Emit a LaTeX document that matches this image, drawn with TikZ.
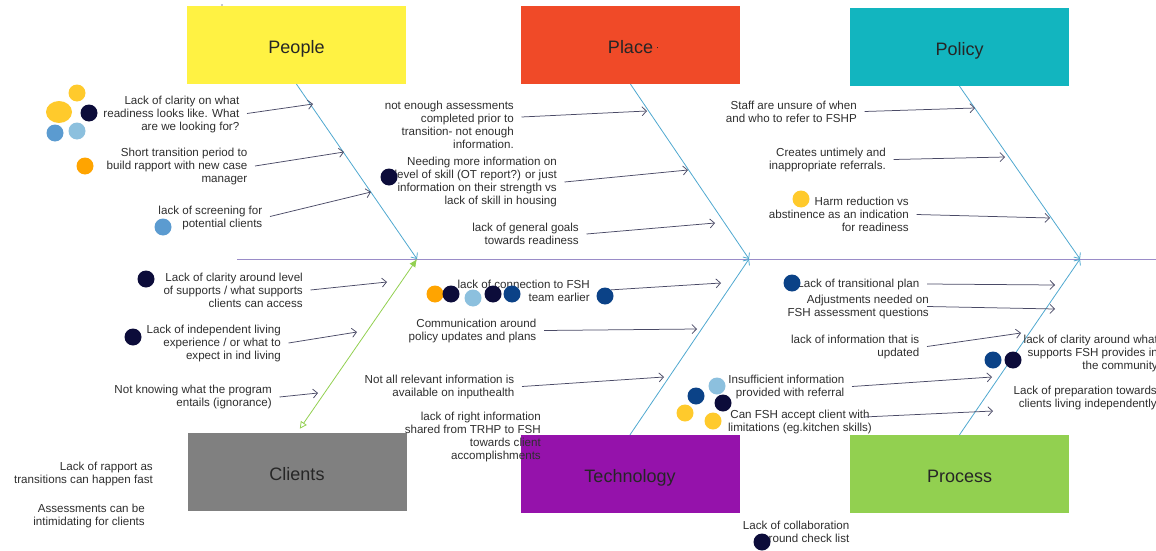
\documentclass[tikz,border=0pt]{standalone}
\usepackage{fontspec}
\setmainfont{Liberation Sans}
\usetikzlibrary{arrows.meta,shapes.geometric}

\definecolor{peoplecol}{HTML}{FFF243}
\definecolor{placecol}{HTML}{F04A28}
\definecolor{policycol}{HTML}{12B5BF}
\definecolor{clientcol}{HTML}{808080}
\definecolor{techcol}{HTML}{9512AB}
\definecolor{processcol}{HTML}{92D050}
\definecolor{boxtext}{HTML}{262626}
\definecolor{causetext}{HTML}{2E2E2E}
\definecolor{arrowgray}{HTML}{4A4A66}
\definecolor{bonecol}{HTML}{4FA8CF}
\definecolor{spinecol}{HTML}{9A8CC8}
\definecolor{dgold}{HTML}{FFCA2C}
\definecolor{dnavy}{HTML}{0C0C3A}
\definecolor{dblue}{HTML}{5B9BD0}
\definecolor{dlight}{HTML}{8CC0DE}
\definecolor{dorange}{HTML}{FFA400}
\definecolor{ddark}{HTML}{0B4287}

\tikzset{
  catbox/.style={fill=#1, draw=none, minimum width=219pt, minimum height=78pt,
    inner sep=0pt, text height=16.5pt, text depth=0pt,
    font=\fontsize{18}{20}\selectfont, text=boxtext},
  cause/.style={align=right, font=\fontsize{11.6}{13}\selectfont, text=causetext,
    inner xsep=7.5pt, inner ysep=0pt, anchor=east},
  causearrow/.style={draw=arrowgray, line width=0.75pt,
    -{Straight Barb[length=4.5pt,width=9pt]}},
  bone/.style={draw=bonecol, line width=0.8pt,
    -{Straight Barb[length=4.5pt,width=8pt]}},
  dot/.style={circle, inner sep=0pt, minimum size=17pt, fill=#1},
}

\begin{document}
\begin{tikzpicture}[x=1pt,y=-1pt]
\useasboundingbox (0,0) rectangle (1156,551);

% category boxes
\node[catbox=peoplecol]  (people)  at (296.5,45)  {People};
\node[catbox=placecol]   (place)   at (630.5,45)  {Place\rlap{\hspace{4pt}\raisebox{5pt}{\rule{1.2pt}{1.2pt}}}};
\node[catbox=policycol]  (policy)  at (959.5,47)  {Policy};
\node[catbox=clientcol]  (clients) at (297,472)   {Clients};
\node[catbox=techcol]    (tech)    at (630,474)   {Technology};
\node[catbox=processcol] (process) at (959.5,474) {Process};

\fill[dnavy] (222,5) circle (0.7);

% spine and bones
\coordinate (sl) at (237,259);
\coordinate (sr) at (1160,259);
\coordinate (j1) at (417,259);
\coordinate (j2) at (749,259);
\coordinate (j3) at (1080,259);
\draw[draw=spinecol, line width=0.8pt] (sl) -- (sr);
\draw[bone] (people.south) -- (j1);
\draw[bone] (place.south) -- (j2);
\draw[bone] (policy.south) -- (j3);
\draw[bone] (tech.north) -- (j2);
\draw[bone] (process.north) -- (j3);
\draw[draw=processcol, line width=0.8pt, shorten <=5pt,
  {Triangle[open,length=7pt,width=7pt]}-{Latex[length=8pt,width=7pt]}] (clients.north) -- (j1);

% arrow end points on the bones
\coordinate (pe1e) at (313,104);
\coordinate (pe2e) at (344,152);
\coordinate (pe3e) at (371,192);
\coordinate (pl1e) at (647,111);
\coordinate (pl2e) at (688,170);
\coordinate (pl3e) at (715,223);
\coordinate (po1e) at (975,108);
\coordinate (po2e) at (1005,157);
\coordinate (po3e) at (1050,218);
\coordinate (cl1e) at (387,282);
\coordinate (cl2e) at (357,332);
\coordinate (cl3e) at (318,393);
\coordinate (te1e) at (721,283);
\coordinate (te2e) at (697,329);
\coordinate (te3e) at (664,377);
\coordinate (pr1e) at (1055,285);
\coordinate (pr2e) at (1055,309);
\coordinate (pr3e) at (1021,333);
\coordinate (pr6e) at (992,377);
\coordinate (pr7e) at (993,411);

% People
\node[cause] (pe1) at (247,115) {Lack of clarity on what\\readiness looks like. What\\are we looking for?};
\node[cause] (pe2) at (255,166) {Short transition period to\\build rapport with new case\\manager};
\node[cause] (pe3) at (270,217.5) {lack of screening for\\potential clients};
\draw[causearrow] ([yshift=1.5pt]pe1.east) -- (pe1e);
\draw[causearrow] (pe2.east) -- (pe2e);
\draw[causearrow] ([yshift=1pt]pe3.east) -- (pe3e);

% Place
\node[cause] (pl1) at (521.5,125) {not enough assessments\\completed prior to\\transition- not enough\\information.};
\node[cause] (pl2) at (564.5,182) {Needing more information on\\level of skill (OT report?) or just\\information on their strength vs\\lack of skill in housing};
\node[cause] (pl3) at (586.5,234) {lack of general goals\\towards readiness};
\draw[causearrow] ([yshift=8pt]pl1.east) -- (pl1e);
\draw[causearrow] (pl2.east) -- (pl2e);
\draw[causearrow] (pl3.east) -- (pl3e);

% Policy
\node[cause] (po1) at (864.5,111.5) {Staff are unsure of when\\and who to refer to FSHP};
\node[cause] (po2) at (893.5,159.5) {Creates untimely and\\inappropriate referrals.};
\node[cause] (po3) at (916.5,214.5) {Harm reduction vs\\abstinence as an indication\\for readiness};
\draw[causearrow] (po1.east) -- (po1e);
\draw[causearrow] (po2.east) -- (po2e);
\draw[causearrow] (po3.east) -- (po3e);

% Clients
\node[cause] (cl1) at (310.5,290) {Lack of clarity around level\\of supports / what supports\\clients can access};
\node[cause] (cl2) at (288.5,343) {Lack of independent living\\experience / or what to\\expect in ind living};
\node[cause] (cl3) at (279.5,397) {Not knowing what the program\\entails (ignorance)};
\node[cause] (cl4) at (160.5,473.5) {Lack of rapport as\\transitions can happen fast};
\node[cause] (cl5) at (152.5,515.5) {Assessments can be\\intimidating for clients};
\draw[causearrow] (cl1.east) -- (cl1e);
\draw[causearrow] (cl2.east) -- (cl2e);
\draw[causearrow] (cl3.east) -- (cl3e);

% Technology
\node[cause] (te1) at (597.5,290.5) {lack of connection to FSH\\team earlier};
\node[cause] (te2) at (544,330.5) {Communication around\\policy updates and plans};
\node[cause] (te3) at (522,386.5) {Not all relevant information is\\available on inputhealth};
\node[cause] (te4) at (548.5,437) {lack of right information\\shared from TRHP to FSH\\towards client\\accomplishments};
\node[dot=ddark] (td6) at (605,296) {};
\draw[causearrow] (td6.north east) -- (te1e);
\draw[causearrow] (te2.east) -- (te2e);
\draw[causearrow] (te3.east) -- (te3e);

% Process
\node[cause] (pr1) at (927,284) {Lack of transitional plan};
\node[cause] (pr2) at (936.5,306.5) {Adjustments needed on\\FSH assessment questions};
\node[cause] (pr3) at (927,346.5) {lack of information that is\\updated};
\node[cause] (pr4) at (1165.5,353.5) {lack of clarity around what\\supports FSH provides in\\the community};
\node[cause] (pr5) at (1164.5,397.5) {Lack of preparation towards\\clients living independently};
\node[cause] (pr6) at (852,386.5) {Insufficient information\\provided with referral};
\node[cause, align=center, anchor=center] (pr7) at (800,421.5) {Can FSH accept client with\\limitations (eg.kitchen skills)};
\node[cause] (pr8) at (857,531.5) {Lack of collaboration\\around check list};
\draw[causearrow] (pr1.east) -- (pr1e);
\draw[causearrow] ([xshift=-9.5pt]pr2.east) -- (pr2e);
\draw[causearrow] (pr3.east) -- (pr3e);
\draw[causearrow] (pr6.east) -- (pr6e);
\draw[causearrow] ([xshift=-16pt,yshift=4.5pt]pr7.east) -- (pr7e);

% votes
\node[fill=dgold, ellipse, inner sep=0pt, minimum width=26pt, minimum height=22pt] (v1) at (59,112) {};
\node[dot=dgold]   (v2)  at (77,93) {};
\node[dot=dnavy]   (v3)  at (89,113) {};
\node[dot=dblue]   (v4)  at (55,133) {};
\node[dot=dlight]  (v5)  at (77,131) {};
\node[dot=dorange] (v6)  at (85,166) {};
\node[dot=dblue]   (v7)  at (163,227) {};
\node[dot=dnavy]   (v8)  at (389,177) {};
\node[dot=dgold]   (v9)  at (801,199) {};
\node[dot=dnavy]   (v10) at (146,279) {};
\node[dot=dnavy]   (v11) at (133,337) {};
\node[dot=dorange] (v12) at (435,294) {};
\node[dot=dnavy]   (v13) at (451,294) {};
\node[dot=dlight]  (v14) at (473,298) {};
\node[dot=dnavy]   (v15) at (493,294) {};
\node[dot=ddark]   (v16) at (512,294) {};
\node[dot=ddark]   (v17) at (792,283) {};
\node[dot=ddark]   (v18) at (993,360) {};
\node[dot=dnavy]   (v19) at (1013,360) {};
\node[dot=dlight]  (v20) at (717,386) {};
\node[dot=ddark]   (v21) at (696,396) {};
\node[dot=dnavy]   (v22) at (723,403) {};
\node[dot=dgold]   (v23) at (685,413) {};
\node[dot=dgold]   (v24) at (713,421) {};
\node[dot=dnavy]   (v25) at (762,542) {};
\end{tikzpicture}
\end{document}
